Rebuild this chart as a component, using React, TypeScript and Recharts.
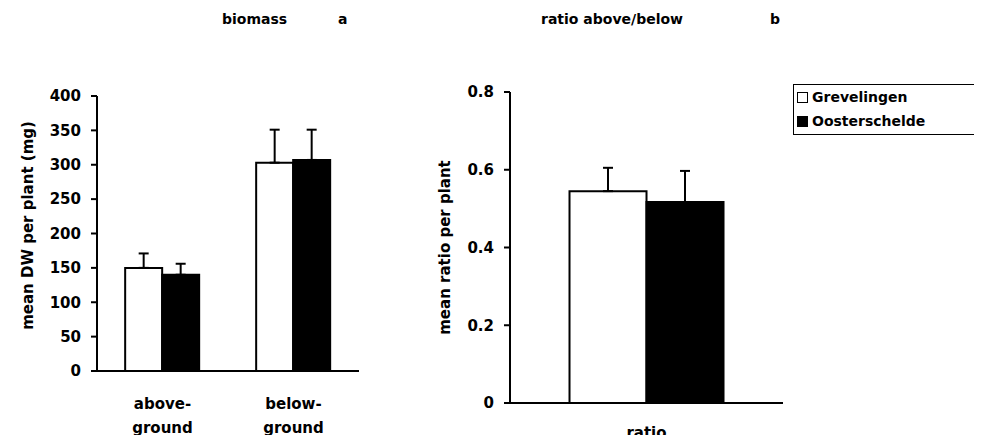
import React from 'react';
import { BarChart, Bar, XAxis, YAxis, ErrorBar, Legend } from 'recharts';

// ---- data ----
const biomassCategories = ['above-ground', 'below-ground'];
const grevelingenBiomass = [150, 303];
const grevelingenBiomassSE = [21, 48];
const oosterscheldeBiomass = [140, 307];
const oosterscheldeBiomassSE = [16, 44];
const biomassTicks = [0, 50, 100, 150, 200, 250, 300, 350, 400];

const ratioCategories = ['ratio'];
const grevelingenRatio = [0.545];
const grevelingenRatioSE = [0.06];
const oosterscheldeRatio = [0.517];
const oosterscheldeRatioSE = [0.08];
const ratioTicks = [0, 0.2, 0.4, 0.6, 0.8];

const seriesNames = ['Grevelingen', 'Oosterschelde'];
const titles = { left: 'biomass', leftTag: 'a', right: 'ratio above/below', rightTag: 'b' };
const axisTitles = { left: 'mean DW per plant (mg)', right: 'mean ratio per plant' };

const biomassData = biomassCategories.map((c, i) => ({
  category: c,
  g: grevelingenBiomass[i],
  gErr: [0, grevelingenBiomassSE[i]],
  o: oosterscheldeBiomass[i],
  oErr: [0, oosterscheldeBiomassSE[i]],
}));

const ratioData = ratioCategories.map((c, i) => ({
  category: c,
  g: grevelingenRatio[i],
  gErr: [0, grevelingenRatioSE[i]],
  o: oosterscheldeRatio[i],
  oErr: [0, oosterscheldeRatioSE[i]],
}));

const FONT = '"DejaVu Sans", "Liberation Sans", sans-serif';
const tickStyle = { fontFamily: FONT, fontWeight: 'bold', fontSize: 15, fill: '#000' };
const lineStyle = { stroke: '#000', strokeWidth: 2 };

const CategoryTick = (props: any) => {
  const { x, y, payload, firstDy = 38 } = props;
  const v = String(payload.value);
  const idx = v.indexOf('-');
  const lines = idx >= 0 ? [v.slice(0, idx + 1), v.slice(idx + 1)] : [v];
  return (
    <text x={x} y={y} textAnchor="middle" fontFamily={FONT} fontWeight="bold" fontSize={15} fill="#000">
      {lines.map((l, i) => (
        <tspan key={i} x={x} dy={i === 0 ? firstDy : 24}>
          {l}
        </tspan>
      ))}
    </text>
  );
};

const makeAxisTitle = (text: string, dxFromLeft: number, cyShift: number) => (props: any) => {
  const vb = props.viewBox || {};
  const cx = vb.x + dxFromLeft;
  const cy = vb.y + vb.height / 2 + cyShift;
  return (
    <text
      x={cx}
      y={cy}
      transform={`rotate(-90, ${cx}, ${cy})`}
      textAnchor="middle"
      fontFamily={FONT}
      fontWeight="bold"
      fontSize={15}
      fill="#000"
    >
      {text}
    </text>
  );
};

const LegendBox = () => (
  <div
    style={{
      border: '1px solid #000',
      borderRight: 'none',
      width: 189,
      height: 51,
      boxSizing: 'border-box',
      fontFamily: FONT,
      fontWeight: 'bold',
      fontSize: 14,
      color: '#000',
      position: 'relative',
    }}
  >
    {seriesNames.map((n, i) => (
      <div key={n} style={{ position: 'absolute', left: 3, top: 4 + i * 24, display: 'flex', alignItems: 'center', whiteSpace: 'nowrap' }}>
        <span
          style={{
            display: 'inline-block',
            width: 9,
            height: 9,
            border: '1px solid #000',
            background: i === 0 ? '#fff' : '#000',
            marginRight: 4,
          }}
        />
        <span>{n}</span>
      </div>
    ))}
  </div>
);

const titleStyle: React.CSSProperties = {
  position: 'absolute',
  fontFamily: FONT,
  fontWeight: 'bold',
  fontSize: 14,
  color: '#000',
  whiteSpace: 'nowrap',
  lineHeight: '16px',
};

export default function App() {
  return (
    <div style={{ position: 'relative', width: 982, height: 443, margin: -8, background: '#fff', overflow: 'hidden' }}>
      <div style={{ ...titleStyle, left: 222, top: 11 }}>{titles.left}</div>
      <div style={{ ...titleStyle, left: 338, top: 11 }}>{titles.leftTag}</div>
      <div style={{ ...titleStyle, left: 541, top: 11 }}>{titles.right}</div>
      <div style={{ ...titleStyle, left: 770, top: 11 }}>{titles.rightTag}</div>

      <div style={{ position: 'absolute', left: 0, top: 0 }}>
        <BarChart
          width={400}
          height={443}
          data={biomassData}
          margin={{ top: 96, right: 41, bottom: 0, left: 0 }}
          barCategoryGap="21.5%"
          barGap={0}
        >
          <XAxis
            xAxisId="grid"
            type="number"
            domain={[0, 2]}
            ticks={[0, 1, 2]}
            allowDataOverflow
            height={0}
            tick={false}
            axisLine={false}
            tickLine={lineStyle}
            tickSize={6}
          />
          <XAxis
            xAxisId="cat"
            dataKey="category"
            height={72}
            tickLine={false}
            axisLine={lineStyle}
            tickSize={0}
            tickMargin={0}
            tick={<CategoryTick firstDy={38} />}
            interval={0}
          />
          <YAxis
            width={97}
            domain={[0, 400]}
            ticks={biomassTicks}
            interval={0}
            tickSize={6}
            tickMargin={10}
            tick={tickStyle}
            tickLine={lineStyle}
            axisLine={lineStyle}
            label={{ content: makeAxisTitle(axisTitles.left, 33, -8) }}
          />
          <Bar xAxisId="cat" dataKey="g" name={seriesNames[0]} fill="#fff" stroke="#000" strokeWidth={2} isAnimationActive={false}>
            <ErrorBar dataKey="gErr" direction="y" width={5} stroke="#000" strokeWidth={2} />
          </Bar>
          <Bar xAxisId="cat" dataKey="o" name={seriesNames[1]} fill="#000" stroke="#000" strokeWidth={2} isAnimationActive={false}>
            <ErrorBar dataKey="oErr" direction="y" width={5} stroke="#000" strokeWidth={2} />
          </Bar>
        </BarChart>
      </div>

      <div style={{ position: 'absolute', left: 400, top: 0 }}>
        <BarChart
          width={582}
          height={443}
          data={ratioData}
          margin={{ top: 92, right: 199, bottom: 0, left: 0 }}
          barCategoryGap="21.8%"
          barGap={0}
        >
          <XAxis
            xAxisId="grid"
            type="number"
            domain={[0, 1]}
            ticks={[0, 1]}
            allowDataOverflow
            height={0}
            tick={false}
            axisLine={false}
            tickLine={lineStyle}
            tickSize={6}
          />
          <XAxis
            xAxisId="cat"
            dataKey="category"
            height={40}
            tickLine={false}
            axisLine={lineStyle}
            tickSize={0}
            tickMargin={0}
            tick={<CategoryTick firstDy={35} />}
            interval={0}
          />
          <YAxis
            width={110}
            domain={[0, 0.8]}
            ticks={ratioTicks}
            interval={0}
            tickSize={6}
            tickMargin={10}
            tick={tickStyle}
            tickFormatter={(v: number) => (v === 0 ? '0' : v.toFixed(1))}
            tickLine={lineStyle}
            axisLine={lineStyle}
            label={{ content: makeAxisTitle(axisTitles.right, 50, 0) }}
          />
          <Legend
            layout="vertical"
            align="center"
            verticalAlign="middle"
            content={<LegendBox />}
            wrapperStyle={{ position: 'absolute', left: 393, top: 84, width: 189, height: 51 }}
          />
          <Bar xAxisId="cat" dataKey="g" name={seriesNames[0]} fill="#fff" stroke="#000" strokeWidth={2} isAnimationActive={false}>
            <ErrorBar dataKey="gErr" direction="y" width={5} stroke="#000" strokeWidth={2} />
          </Bar>
          <Bar xAxisId="cat" dataKey="o" name={seriesNames[1]} fill="#000" stroke="#000" strokeWidth={2} isAnimationActive={false}>
            <ErrorBar dataKey="oErr" direction="y" width={5} stroke="#000" strokeWidth={2} />
          </Bar>
        </BarChart>
      </div>
    </div>
  );
}
